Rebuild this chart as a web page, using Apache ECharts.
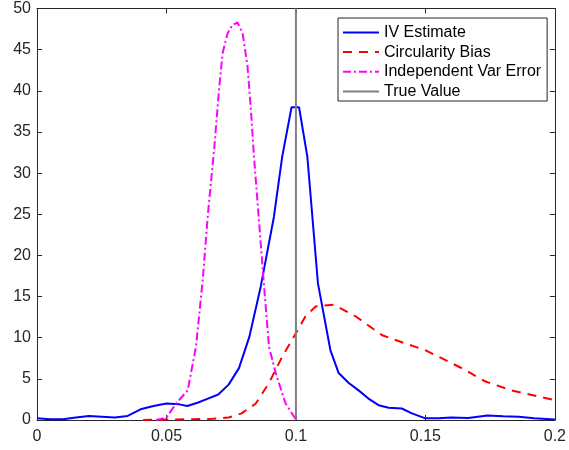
<!DOCTYPE html>
<html>
<head>
<meta charset="utf-8">
<script src="https://cdn.jsdelivr.net/npm/echarts@6/dist/echarts.min.js"></script>
<style>
html,body{margin:0;padding:0;background:#fff;}
#c{width:569px;height:450px;}
</style>
</head>
<body>
<div id="c"></div>
<script>
var xTicks = [0, 0.05, 0.1, 0.15, 0.2];
var yTicks = [0, 5, 10, 15, 20, 25, 30, 35, 40, 45, 50];

var ivX = [0, 0.005, 0.01, 0.015, 0.02, 0.025, 0.03, 0.035, 0.04, 0.045, 0.05, 0.055, 0.058, 0.062, 0.066, 0.07, 0.074, 0.078, 0.082, 0.0864, 0.0915, 0.0947, 0.0983, 0.1012, 0.1044, 0.1085, 0.1133, 0.1165, 0.1204, 0.1242, 0.128, 0.1319, 0.1358, 0.1409, 0.1448, 0.15, 0.155, 0.16, 0.1665, 0.174, 0.18, 0.186, 0.192, 0.2];
var ivY = [0.2, 0.1, 0.1, 0.3, 0.5, 0.4, 0.3, 0.5, 1.3, 1.7, 2.0, 1.9, 1.7, 2.1, 2.6, 3.1, 4.3, 6.3, 10.1, 16.2, 24.7, 32, 38, 38, 32, 16.6, 8.5, 5.7, 4.5, 3.6, 2.6, 1.8, 1.5, 1.4, 0.8, 0.2, 0.2, 0.3, 0.25, 0.55, 0.45, 0.4, 0.2, 0.05];

var circX = [0.041, 0.05, 0.06, 0.068, 0.074, 0.079, 0.0845, 0.0896, 0.0947, 0.0999, 0.1037, 0.1076, 0.1146, 0.123, 0.1333, 0.1422, 0.1499, 0.1576, 0.1653, 0.173, 0.1832, 0.2];
var circY = [0, 0.05, 0.1, 0.15, 0.3, 0.8, 2.0, 4.5, 7.7, 10.5, 12.6, 13.8, 14.0, 12.6, 10.3, 9.3, 8.5, 7.3, 6.1, 4.7, 3.6, 2.4];

var indX = [0.046, 0.05, 0.0537, 0.0582, 0.0614, 0.064, 0.066, 0.0685, 0.0704, 0.0717, 0.0736, 0.0755, 0.0774, 0.0794, 0.0813, 0.0826, 0.0838, 0.0858, 0.0877, 0.0896, 0.0922, 0.096, 0.0999];
var indY = [0, 0.3, 2.0, 3.6, 8.9, 17, 25, 33.2, 40.5, 44.6, 47, 48, 48.3, 47, 43, 37.7, 32, 23.9, 16.2, 8.9, 5.7, 2.0, 0.1];

var trueX = [0.1, 0.1];
var trueY = [0, 50];

var seriesNames = ['IV Estimate', 'Circularity Bias', 'Independent Var Error', 'True Value'];

function pairs(xs, ys) { return xs.map(function (x, i) { return [x, ys[i]]; }); }

var axisColor = '#262626';
var font = 'Liberation Sans, Arial, Helvetica, sans-serif';

var chart = echarts.init(document.getElementById('c'), null, { renderer: 'canvas' });
chart.setOption({
  animation: false,
  backgroundColor: '#fff',
  grid: { left: 37, right: 11.5, top: 8.5, bottom: 30, containLabel: false },
  legend: {
    orient: 'vertical',
    left: 338, top: 18,
    data: seriesNames,
    itemWidth: 36, itemHeight: 14, itemGap: 3.7, itemTextGap: 5,
    padding: [6.4, 6, 1.5, 4],
    borderColor: axisColor, borderWidth: 1, backgroundColor: '#fff',
    itemStyle: { opacity: 0 },
    textStyle: { fontFamily: font, fontSize: 16, color: '#000' }
  },
  xAxis: [{
    type: 'value', min: 0, max: 0.2, interval: 0.05, position: 'bottom',
    axisLine: { show: true, onZero: false, lineStyle: { color: axisColor, width: 1 } },
    axisTick: { show: true, inside: true, length: 5, lineStyle: { color: axisColor } },
    axisLabel: { fontFamily: font, fontSize: 16, color: axisColor, margin: 9,
      formatter: function (v) { return String(xTicks[Math.round(v / 0.05)]); } },
    splitLine: { show: false }
  }, {
    type: 'value', min: 0, max: 0.2, interval: 0.05, position: 'top',
    axisLine: { show: true, onZero: false, lineStyle: { color: axisColor, width: 1 } },
    axisTick: { show: true, inside: true, length: 5, lineStyle: { color: axisColor } },
    axisLabel: { show: false }, splitLine: { show: false }
  }],
  yAxis: [{
    type: 'value', min: 0, max: 50, interval: 5, position: 'left',
    axisLine: { show: true, onZero: false, lineStyle: { color: axisColor, width: 1 } },
    axisTick: { show: true, inside: true, length: 5, lineStyle: { color: axisColor } },
    axisLabel: { fontFamily: font, fontSize: 16, color: axisColor, margin: 6,
      formatter: function (v) { return String(yTicks[Math.round(v / 5)]); } },
    splitLine: { show: false }
  }, {
    type: 'value', min: 0, max: 50, interval: 5, position: 'right',
    axisLine: { show: true, onZero: false, lineStyle: { color: axisColor, width: 1 } },
    axisTick: { show: true, inside: true, length: 5, lineStyle: { color: axisColor } },
    axisLabel: { show: false }, splitLine: { show: false }
  }],
  series: [{
    name: seriesNames[0], type: 'line', data: pairs(ivX, ivY),
    symbol: 'none', smooth: false,
    lineStyle: { color: '#0000ff', width: 2 }, itemStyle: { color: '#0000ff' }
  }, {
    name: seriesNames[1], type: 'line', data: pairs(circX, circY),
    symbol: 'none', smooth: false,
    lineStyle: { color: '#ff0000', width: 2, type: [9, 7] }, itemStyle: { color: '#ff0000' }
  }, {
    name: seriesNames[2], type: 'line', data: pairs(indX, indY),
    symbol: 'none', smooth: false,
    lineStyle: { color: '#ff00ff', width: 2, type: [8, 3, 2, 3] }, itemStyle: { color: '#ff00ff' }
  }, {
    name: seriesNames[3], type: 'line', data: pairs(trueX, trueY),
    symbol: 'none',
    lineStyle: { color: '#808080', width: 2 }, itemStyle: { color: '#808080' }
  }]
});
</script>
</body>
</html>
